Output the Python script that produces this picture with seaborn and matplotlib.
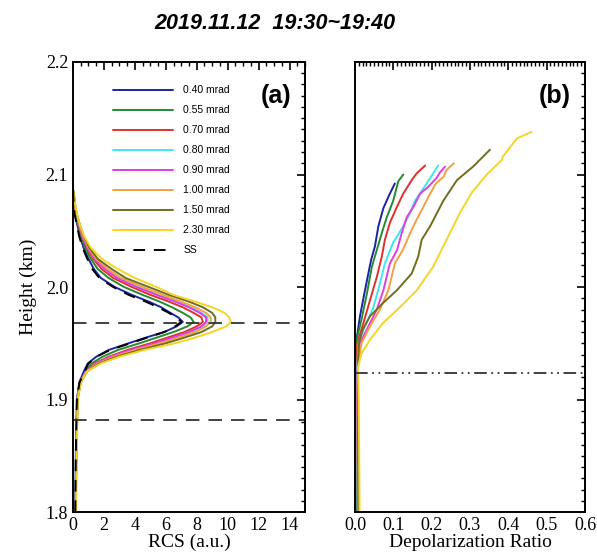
import numpy as np
import pandas as pd
import matplotlib
matplotlib.use('Agg')
import matplotlib.pyplot as plt
import seaborn as sns
from matplotlib.ticker import MultipleLocator

# ---- data ----
labels = ['0.40 mrad', '0.55 mrad', '0.70 mrad', '0.80 mrad',
          '0.90 mrad', '1.00 mrad', '1.50 mrad', '2.30 mrad']
colors = ['#1c22a8', '#228b30', '#e0302e', '#3fe6f0',
          '#e03ce6', '#f2a042', '#6e6e1e', '#f6d425']

# panel (a): RCS profiles on a common height grid (km)
h_rcs = [1.80, 1.85, 1.90, 1.915, 1.925, 1.932, 1.938, 1.944, 1.950, 1.955,
         1.960, 1.965, 1.969, 1.973, 1.977, 1.982, 1.987, 1.993, 2.000, 2.008,
         2.016, 2.025, 2.035, 2.045, 2.055, 2.065, 2.075, 2.085]
rcs_040 = [0.15, 0.18, 0.25, 0.40, 0.70, 0.95, 1.5, 2.3, 3.6, 4.7, 5.9, 6.7, 7.1, 6.8,
           6.3, 5.7, 4.9, 3.8, 2.7, 1.8, 1.35, 1.0, 0.68, 0.45, 0.28, 0.12, 0.05, 0.02]
rcs_055 = [0.16, 0.20, 0.27, 0.45, 0.80, 1.2, 1.9, 2.9, 4.3, 5.4, 6.5, 7.4, 7.8, 7.6,
           7.1, 6.4, 5.6, 4.5, 3.3, 2.3, 1.6, 1.15, 0.78, 0.52, 0.33, 0.16, 0.07, 0.03]
rcs_070 = [0.17, 0.21, 0.28, 0.46, 0.85, 1.4, 2.3, 3.5, 5.0, 6.1, 7.2, 8.0, 8.4, 8.3,
           7.8, 7.1, 6.2, 5.0, 3.8, 2.6, 1.85, 1.3, 0.88, 0.58, 0.37, 0.19, 0.08, 0.03]
rcs_080 = [0.17, 0.21, 0.28, 0.47, 0.85, 1.5, 2.5, 3.8, 5.4, 6.5, 7.6, 8.4, 8.7, 8.7,
           8.3, 7.6, 6.7, 5.5, 4.2, 2.9, 2.1, 1.4, 0.95, 0.62, 0.40, 0.21, 0.09, 0.04]
rcs_090 = [0.17, 0.21, 0.28, 0.47, 0.85, 1.5, 2.4, 3.7, 5.3, 6.4, 7.5, 8.3, 8.6, 8.6,
           8.2, 7.5, 6.6, 5.4, 4.1, 2.85, 2.05, 1.4, 0.93, 0.60, 0.39, 0.20, 0.09, 0.04]
rcs_100 = [0.18, 0.22, 0.29, 0.48, 0.90, 1.6, 2.6, 4.0, 5.6, 6.8, 7.9, 8.6, 8.9, 8.9,
           8.6, 7.9, 7.0, 5.8, 4.5, 3.1, 2.25, 1.5, 1.0, 0.66, 0.42, 0.22, 0.10, 0.04]
rcs_150 = [0.18, 0.22, 0.30, 0.50, 0.90, 1.7, 2.8, 4.3, 6.0, 7.2, 8.3, 9.0, 9.2, 9.2,
           9.0, 8.4, 7.5, 6.2, 4.9, 3.4, 2.5, 1.6, 1.05, 0.70, 0.45, 0.24, 0.11, 0.05]
rcs_230 = [0.20, 0.24, 0.30, 0.50, 0.90, 1.8, 3.0, 4.6, 6.6, 7.9, 9.0, 9.9, 10.2, 10.1,
           9.8, 9.0, 7.9, 6.5, 5.4, 4.0, 2.9, 1.85, 1.15, 0.72, 0.45, 0.25, 0.12, 0.04]
rcs_ss = [0.15, 0.18, 0.25, 0.42, 0.75, 1.0, 1.5, 2.4, 3.7, 4.8, 5.9, 6.6, 7.0, 6.7,
          6.2, 5.5, 4.7, 3.6, 2.6, 1.7, 1.25, 0.92, 0.62, 0.40, 0.25, 0.10, 0.04, 0.01]

# panel (b): depolarization ratio profiles
h_dr_040 = [1.80, 1.85, 1.90, 1.93, 1.953, 1.974, 1.997, 2.024, 2.036, 2.054, 2.070, 2.083, 2.092]
dr_040 = [0.006, 0.005, 0.004, 0.003, 0.004, 0.013, 0.026, 0.042, 0.052, 0.061, 0.074, 0.091, 0.104]
h_dr_055 = [1.80, 1.85, 1.90, 1.93, 1.953, 1.971, 1.994, 2.018, 2.033, 2.048, 2.062, 2.077, 2.094, 2.100]
dr_055 = [0.006, 0.006, 0.005, 0.004, 0.004, 0.017, 0.031, 0.044, 0.057, 0.070, 0.083, 0.100, 0.113, 0.126]
h_dr_070 = [1.80, 1.85, 1.90, 1.93, 1.950, 1.968, 1.988, 2.009, 2.027, 2.042, 2.057, 2.071, 2.083,
            2.095, 2.101, 2.108]
dr_070 = [0.007, 0.006, 0.005, 0.005, 0.006, 0.022, 0.039, 0.057, 0.070, 0.078, 0.091, 0.109, 0.126,
          0.148, 0.161, 0.183]
h_dr_080 = [1.80, 1.85, 1.90, 1.93, 1.950, 1.965, 1.982, 2.003, 2.021, 2.039, 2.054, 2.066, 2.077,
            2.092, 2.101, 2.108]
dr_080 = [0.007, 0.006, 0.006, 0.006, 0.009, 0.026, 0.048, 0.065, 0.078, 0.099, 0.126, 0.144, 0.157,
          0.187, 0.204, 0.217]
h_dr_090 = [1.80, 1.85, 1.90, 1.93, 1.950, 1.965, 1.980, 1.997, 2.021, 2.033, 2.048, 2.062, 2.071,
            2.083, 2.089, 2.097, 2.102, 2.107]
dr_090 = [0.008, 0.007, 0.006, 0.007, 0.013, 0.035, 0.057, 0.074, 0.091, 0.110, 0.122, 0.135, 0.152,
          0.170, 0.191, 0.213, 0.222, 0.235]
h_dr_100 = [1.80, 1.85, 1.90, 1.93, 1.950, 1.965, 1.980, 1.997, 2.021, 2.033, 2.048, 2.060, 2.071,
            2.083, 2.092, 2.098, 2.104, 2.110]
dr_100 = [0.008, 0.007, 0.007, 0.008, 0.017, 0.039, 0.065, 0.087, 0.104, 0.125, 0.144, 0.161, 0.178,
          0.196, 0.211, 0.231, 0.239, 0.258]
h_dr_150 = [1.80, 1.85, 1.90, 1.93, 1.950, 1.962, 1.974, 1.986, 1.997, 2.012, 2.027, 2.042, 2.054,
            2.077, 2.095, 2.107, 2.122]
dr_150 = [0.009, 0.008, 0.008, 0.008, 0.010, 0.020, 0.039, 0.074, 0.109, 0.148, 0.165, 0.174, 0.196,
          0.231, 0.266, 0.308, 0.352]
h_dr_230 = [1.80, 1.85, 1.90, 1.929, 1.941, 1.953, 1.968, 1.982, 1.997, 2.018, 2.042, 2.066, 2.084,
            2.100, 2.113, 2.116, 2.132, 2.138]
dr_230 = [0.012, 0.011, 0.010, 0.008, 0.017, 0.039, 0.073, 0.117, 0.161, 0.204, 0.239, 0.274, 0.305,
          0.344, 0.383, 0.386, 0.422, 0.461]

# reference heights
cloud_base = 1.882
cloud_peak = 1.968
dr_level = 1.924

rcs_list = [rcs_040, rcs_055, rcs_070, rcs_080, rcs_090, rcs_100, rcs_150, rcs_230]
dr_heights = [h_dr_040, h_dr_055, h_dr_070, h_dr_080, h_dr_090, h_dr_100, h_dr_150, h_dr_230]
dr_list = [dr_040, dr_055, dr_070, dr_080, dr_090, dr_100, dr_150, dr_230]

sns.set_style('white')
plt.rcParams['font.family'] = ['Liberation Serif', 'DejaVu Serif']
plt.rcParams['axes.linewidth'] = 1.4
plt.rcParams['text.color'] = 'black'
plt.rcParams['axes.labelcolor'] = 'black'
plt.rcParams['xtick.color'] = 'black'
plt.rcParams['ytick.color'] = 'black'

fig = plt.figure(figsize=(5.97, 5.58), dpi=100)
ax1 = fig.add_axes([0.1223, 0.0824, 0.3886, 0.8065])
ax2 = fig.add_axes([0.5946, 0.0824, 0.3853, 0.8065])

# panel (a)
for vals, c, lab in zip(rcs_list, colors, labels):
    sns.lineplot(x=vals, y=h_rcs, ax=ax1, color=c, lw=1.4, label=lab,
                 sort=False, estimator=None, orient='y')
sns.lineplot(x=rcs_ss, y=h_rcs, ax=ax1, color='black', lw=1.4, label='SS',
             sort=False, estimator=None, orient='y', linestyle=(0, (6, 4.5)))
for hh in [cloud_peak, cloud_base]:
    ax1.axhline(hh, color='#333333', lw=1.3, linestyle=(0, (7.5, 5)))

ax1.set_xlim(0, 15)
ax1.set_ylim(1.8, 2.2)
ax1.xaxis.set_major_locator(MultipleLocator(2))
ax1.xaxis.set_minor_locator(MultipleLocator(0.5))
ax1.yaxis.set_major_locator(MultipleLocator(0.1))
ax1.yaxis.set_minor_locator(MultipleLocator(0.01))
ax1.set_xlabel('RCS (a.u.)', fontsize=14, labelpad=0)
ax1.set_ylabel('Height (km)', fontsize=14, labelpad=6)
ax1.text(0.94, 0.925, '(a)', transform=ax1.transAxes, ha='right', va='center',
         fontsize=18, fontweight='bold', family='Liberation Sans')
ax1.legend(loc='upper left', bbox_to_anchor=(0.13, 0.969), frameon=False,
           prop={'family': 'Liberation Sans', 'size': 7.5}, handlelength=5.8,
           handletextpad=1.0, labelspacing=0.96)

# panel (b)
for hb, vals, c in zip(dr_heights, dr_list, colors):
    sns.lineplot(x=vals, y=hb, ax=ax2, color=c, lw=1.4,
                 sort=False, estimator=None, orient='y')
ax2.axhline(dr_level, color='#333333', lw=1.3,
            linestyle=(0, (7, 2.5, 1, 2.5, 1, 2.5)))
ax2.set_xlim(0, 0.6)
ax2.set_ylim(1.8, 2.2)
ax2.xaxis.set_major_locator(MultipleLocator(0.1))
ax2.xaxis.set_minor_locator(MultipleLocator(0.01))
ax2.yaxis.set_major_locator(MultipleLocator(0.1))
ax2.yaxis.set_minor_locator(MultipleLocator(0.01))
ax2.set_yticklabels([])
ax2.set_ylabel('')
ax2.set_xlabel('Depolarization Ratio', fontsize=14, labelpad=0)
ax2.text(0.94, 0.925, '(b)', transform=ax2.transAxes, ha='right', va='center',
         fontsize=18, fontweight='bold', family='Liberation Sans')

for ax in [ax1, ax2]:
    ax.tick_params(which='both', direction='in', top=True, right=True,
                   color='black', labelcolor='black', labelsize=13)
    ax.tick_params(which='major', length=6, width=1.2)
    ax.tick_params(which='minor', length=3, width=1.0)
    for s in ax.spines.values():
        s.set_color('black')

fig.text(0.461, 0.958, '2019.11.12  19:30~19:40', ha='center', va='center',
         fontsize=15.5, fontweight='bold', fontstyle='italic', family='Liberation Sans',
         color='black')

fig.savefig('out.png', dpi=100)
